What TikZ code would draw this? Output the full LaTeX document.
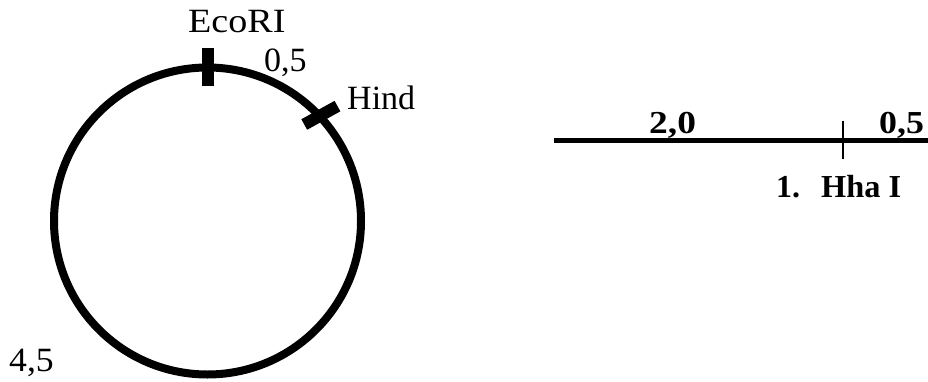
\documentclass[tikz,border=0pt]{standalone}
\usepackage{fontspec}
\usetikzlibrary{calc}
\setmainfont{Liberation Serif}
\begin{document}
\begin{tikzpicture}[x=1pt,y=1pt,
  lab/.style={anchor=base west,inner sep=0pt,font=\fontsize{34}{38}\selectfont},
  blab/.style={anchor=base west,inner sep=0pt,font=\fontsize{32}{36}\selectfont\bfseries},
  ring/.style={line width=8pt},
  site/.style={line width=12pt},
  bar/.style={line width=5pt},
  cut/.style={line width=2.5pt}]
\useasboundingbox (0,0) rectangle (928,381);
% plasmid
\coordinate (c) at (207.5,160);
\draw[ring] (c) circle (153.5);
\coordinate (eco) at ($(c)+(90:153.5)$);
\coordinate (hin) at ($(c)+(43:155)$);
\draw[site] ($(eco)+(0,19)$) -- ($(eco)+(0,-19)$);
\draw[site] ($(hin)+(29:19)$) -- ($(hin)+(209:19)$);
\node[lab] (tEco) at (188,348) {\scalebox{1.12}[1]{EcoRI}};
\node[lab] (tA) at (264,309) {0,5};
\node[lab] (tHind) at (347,272) {Hind};
\node[lab] (tB) at (9,10) {\scalebox{1.05}[1]{4,5}};
% linear map
\coordinate (l0) at (554,241);
\coordinate (l1) at (928,241);
\draw[bar] (l0) -- (l1);
\coordinate (k0) at (843,260);
\coordinate (k1) at (843,222);
\draw[cut] (k0) -- (k1);
\node[blab] (t20) at (649,248) {\scalebox{1.17}[1]{2,0}};
\node[blab] (t05) at (879,248) {\scalebox{1.12}[1]{0,5}};
\node[blab] (t1) at (776,184) {1.};
\node[blab] (tHha) at (821,184) {\scalebox{1.01}[1]{Hha I}};
\end{tikzpicture}
\end{document}
